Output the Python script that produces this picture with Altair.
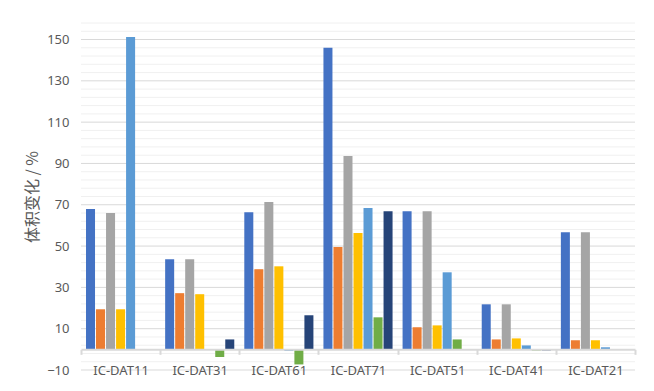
import altair as alt
import pandas as pd

categories = ["IC-DAT11", "IC-DAT31", "IC-DAT61", "IC-DAT71", "IC-DAT51", "IC-DAT41", "IC-DAT21"]
series = ["系列1", "系列2", "系列3", "系列4", "系列5", "系列6", "系列7"]
colors = ["#4472C4", "#ED7D31", "#A5A5A5", "#FFC000", "#5B9BD5", "#70AD47", "#264478"]

s1 = [68.0, 43.6, 66.4, 146.0, 66.9, 21.8, 56.7]
s2 = [19.4, 27.2, 38.8, 49.5, 10.7, 4.8, 4.4]
s3 = [66.0, 43.6, 71.3, 93.6, 66.9, 21.8, 56.7]
s4 = [19.4, 26.7, 40.2, 56.3, 11.6, 5.3, 4.4]
s5 = [151.2, 0.0, -0.8, 68.4, 37.3, 1.9, 1.0]
s6 = [0.0, -3.7, -7.3, 15.5, 4.8, -0.6, 0.0]
s7 = [0.0, 4.8, 16.5, 66.9, 0.0, -0.6, 0.0]

y_min, y_max = -10, 158
major_ticks = [-10, 10, 30, 50, 70, 90, 110, 130, 150]
minor_ticks = [-6, -2, 2, 6, 14, 18, 22, 26, 34, 38, 42, 46, 54, 58, 62, 66,
               74, 78, 82, 86, 94, 98, 102, 106, 114, 118, 122, 126,
               134, 138, 142, 146, 154, 158]

W, H = 554, 347

rows = []
for name, vals in zip(series, [s1, s2, s3, s4, s5, s6, s7]):
    for c, v in zip(categories, vals):
        rows.append({"category": c, "series": name, "value": v})
df = pd.DataFrame(rows)
minor_df = pd.DataFrame({"tick": minor_ticks})
major_df = pd.DataFrame({"tick": major_ticks})

y_scale = alt.Scale(domain=[y_min, y_max], nice=False, zero=False)
y_axis = alt.Axis(
    values=major_ticks, grid=False, domain=False, ticks=False,
    labelPadding=12, labelColor="#595959", labelFontSize=13, labelFont="Noto Sans",
    title="体积变化 / %", titleFont="Noto Sans CJK SC", titleFontSize=16,
    titleColor="#595959", titleFontWeight="normal", titlePadding=6,
)

x_offset_px = -(0 - y_min) / (y_max - y_min) * H

minor = alt.Chart(minor_df).mark_rule(color="#f0f0f0", strokeWidth=1).encode(
    y=alt.Y("tick:Q", scale=y_scale, axis=y_axis)
)
major = alt.Chart(major_df).mark_rule(color="#d9d9d9", strokeWidth=1).encode(
    y=alt.Y("tick:Q", scale=y_scale, axis=y_axis)
)
bars = alt.Chart(df).mark_bar().encode(
    x=alt.X("category:N", sort=categories,
            scale=alt.Scale(paddingInner=0, paddingOuter=0),
            axis=alt.Axis(title=None, labelAngle=0, grid=False, tickBand="extent",
                          offset=x_offset_px, domainColor="#d9d9d9", domainWidth=2,
                          tickColor="#d9d9d9", tickWidth=2, tickSize=5,
                          labelPadding=10, labelColor="#595959", labelFontSize=13,
                          labelFont="Noto Sans", zindex=1)),
    xOffset=alt.XOffset("series:N", sort=series,
                        scale=alt.Scale(paddingInner=0.1, paddingOuter=0.5)),
    y=alt.Y("value:Q", scale=y_scale, axis=y_axis),
    color=alt.Color("series:N", sort=series,
                    scale=alt.Scale(domain=series, range=colors), legend=None),
)

chart = alt.layer(minor, major, bars).properties(
    width=W, height=H,
    autosize=alt.AutoSizeParams(type="none"),
    padding={"left": 73, "top": 15, "right": 11, "bottom": 15},
    background="white",
).configure_view(stroke=None)

chart.save("out.html", embed_options={"renderer": "svg", "actions": False})
